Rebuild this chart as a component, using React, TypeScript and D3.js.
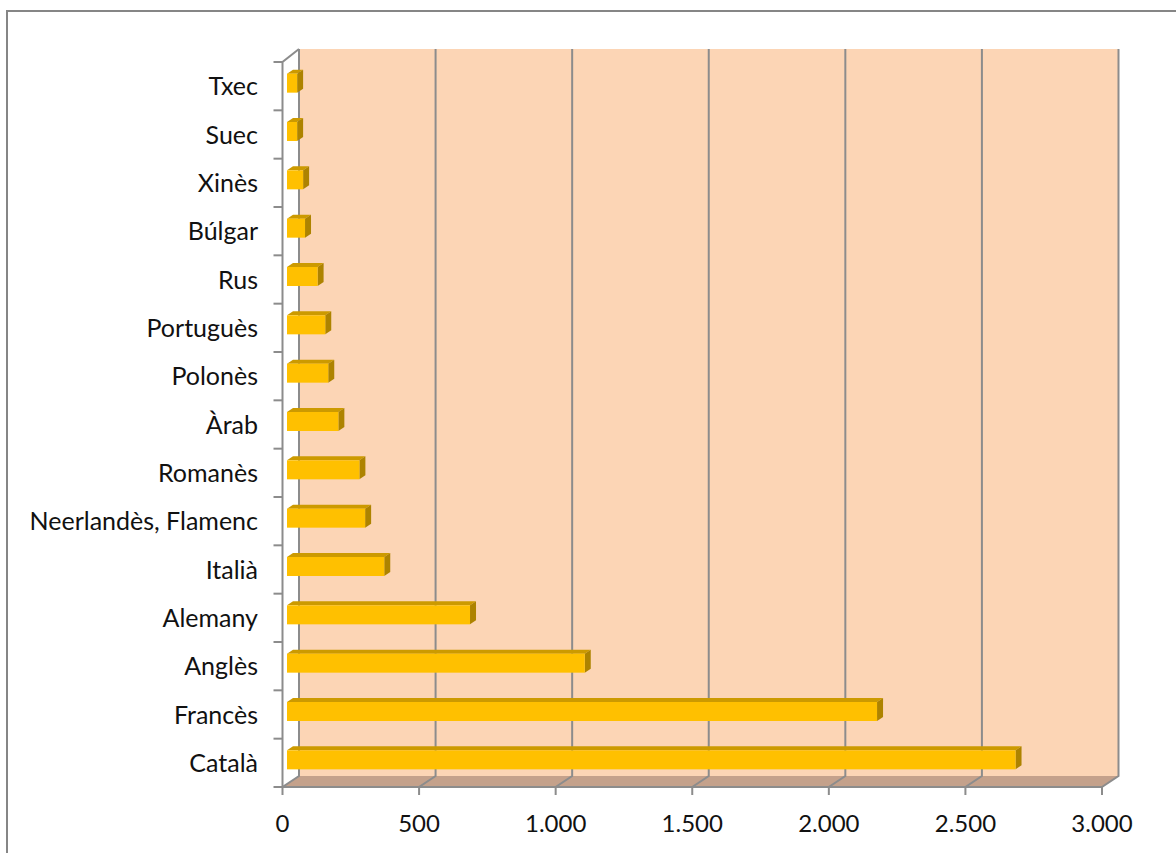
import React from "react";
import * as d3 from "d3";

// Languages, bottom to top, and their counts
const categories = [
  "Català",
  "Francès",
  "Anglès",
  "Alemany",
  "Italià",
  "Neerlandès, Flamenc",
  "Romanès",
  "Àrab",
  "Polonès",
  "Portuguès",
  "Rus",
  "Búlgar",
  "Xinès",
  "Suec",
  "Txec",
];
const values = [2667, 2160, 1090, 670, 356, 286, 265, 188, 151, 140, 112, 66, 59, 37, 37];
const xTicks = [0, 500, 1000, 1500, 2000, 2500, 3000];
const tickFormat = (v: number) => (v === 0 ? "0" : d3.format(",")(v).replace(/,/g, "."));

const W = 1176;
const H = 853;

// Front plane of the 3D box and the depth offset to the back wall
const frontLeft = 282.5;
const frontRight = 1102;
const frontTop = 62;
const frontBottom = 787;
const depthX = 16.5;
const depthY = -11;

// Bars sit inside the depth: front face and back face offsets
const barFront = { dx: 4.5, dy: -3 };
const barBack = { dx: 10.5, dy: -7 };
const barThickness = 19;

const FONT = "Lato, 'Open Sans', sans-serif";
const GRID = "#8c8c8c";

export default function App() {
  const x = d3.scaleLinear().domain([0, 3000]).range([frontLeft, frontRight]);
  const y = d3
    .scaleBand<string>()
    .domain(categories)
    .range([frontBottom, frontTop])
    .padding(0);

  const bandEdges = d3.range(categories.length + 1).map((i) => frontBottom - i * y.step());

  const backTop = frontTop + depthY - 2;
  const backBottom = frontBottom + depthY;

  return (
    <svg
      width={W}
      height={H}
      viewBox={`0 0 ${W} ${H}`}
      style={{ position: "absolute", left: 0, top: 0, background: "#fff" }}
    >
      {/* chart frame */}
      <rect x={7} y={11} width={1200} height={900} fill="#fff" stroke="#868686" strokeWidth={2} />

      {/* back wall */}
      <rect
        x={x(0) + depthX}
        y={backTop}
        width={x(3000) - x(0)}
        height={backBottom - backTop}
        fill="#fcd5b5"
      />
      {/* floor */}
      <polygon
        points={[
          [x(0), frontBottom],
          [x(3000), frontBottom],
          [x(3000) + depthX, backBottom],
          [x(0) + depthX, backBottom],
        ]
          .map((p) => p.join(","))
          .join(" ")}
        fill="#c4a18b"
      />

      {/* vertical gridlines on wall and floor, plus x ticks */}
      {xTicks.map((t) => (
        <g key={t} stroke={GRID} strokeWidth={2} fill="none">
          <polyline
            points={`${x(t) + depthX},${backTop} ${x(t) + depthX},${backBottom} ${x(t)},${frontBottom} ${x(t)},${frontBottom + 8}`}
          />
        </g>
      ))}

      {/* x axis line at the front of the floor */}
      <line x1={x(0)} x2={x(3000)} y1={frontBottom} y2={frontBottom} stroke={GRID} strokeWidth={2} />

      {/* y axis with top edge of side wall */}
      <polyline
        points={`${x(0) + depthX},${backTop} ${x(0)},${frontTop} ${x(0)},${frontBottom}`}
        stroke={GRID}
        strokeWidth={2}
        fill="none"
      />
      {bandEdges.map((e, i) => (
        <line key={i} x1={x(0) - 9} x2={x(0)} y1={e} y2={e} stroke={GRID} strokeWidth={2} />
      ))}

      {/* bars */}
      {categories.map((c, i) => {
        const v = values[i];
        const cy = (y(c) as number) + y.bandwidth() / 2 + barFront.dy;
        const y0 = cy - barThickness / 2;
        const y1 = cy + barThickness / 2;
        const x0 = x(0) + barFront.dx;
        const x1 = x(v) + barFront.dx;
        const ddx = barBack.dx - barFront.dx;
        const ddy = barBack.dy - barFront.dy;
        const pts = (arr: number[][]) => arr.map((p) => p.join(",")).join(" ");
        return (
          <g key={c}>
            <polygon
              points={pts([
                [x0, y0],
                [x1, y0],
                [x1 + ddx, y0 + ddy],
                [x0 + ddx, y0 + ddy],
              ])}
              fill="#cc9a00"
            />
            <polygon
              points={pts([
                [x1, y0],
                [x1 + ddx, y0 + ddy],
                [x1 + ddx, y1 + ddy],
                [x1, y1],
              ])}
              fill="#ad8300"
            />
            <rect x={x0} y={y0} width={x1 - x0} height={y1 - y0} fill="#ffc000" />
          </g>
        );
      })}

      {/* category labels */}
      {categories.map((c) => (
        <text
          key={c}
          x={258}
          y={(y(c) as number) + y.bandwidth() / 2 + 3}
          textAnchor="end"
          dominantBaseline="middle"
          fontFamily={FONT}
          fontSize={25}
          fill="#111"
        >
          {c}
        </text>
      ))}

      {/* x tick labels */}
      {xTicks.map((t) => (
        <text
          key={t}
          x={x(t)}
          y={826}
          textAnchor="middle"
          dominantBaseline="middle"
          fontFamily={FONT}
          fontSize={24}
          fill="#111"
        >
          {tickFormat(t)}
        </text>
      ))}
    </svg>
  );
}
